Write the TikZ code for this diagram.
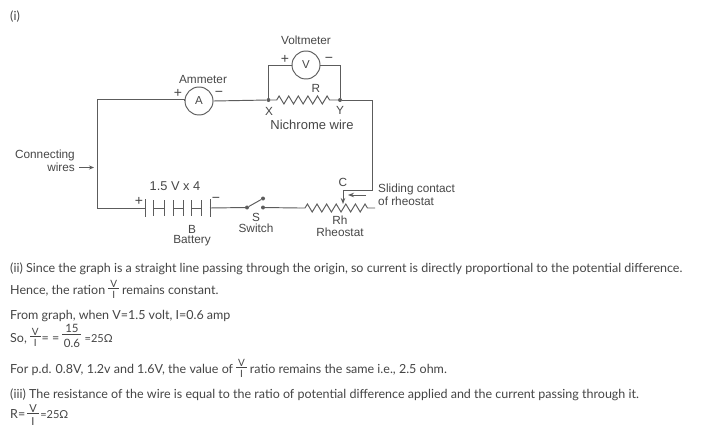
\documentclass[tikz,border=0pt]{standalone}
\usepackage{fontspec}
\setmainfont{Lato}
\newfontfamily\diag{Liberation Sans}
\usetikzlibrary{decorations.pathmorphing,arrows.meta}
\definecolor{wirec}{gray}{0.36}
\definecolor{labc}{gray}{0.28}
\definecolor{bodyc}{gray}{0.27}
% \stack{width}{font size}{top raise}{bar raise}{bottom raise}{top}{bottom}
\newcommand{\stack}[7]{{\fontsize{#2}{#2}\selectfont
  \makebox[0pt][l]{\raisebox{#3}{\makebox[#1]{#6}}}%
  \makebox[0pt][l]{\raisebox{#5}{\makebox[#1]{#7}}}%
  \rule[#4]{#1}{0.8pt}}}
\newcommand{\frc}[2]{\stack{10.5pt}{10}{7pt}{5pt}{-4.5pt}{#1}{#2}}
\newcommand{\frb}[2]{\stack{19pt}{11.5}{9.5pt}{7pt}{-5pt}{#1}{#2}}
\newcommand{\ohm}[1]{{\fontsize{11}{12}\selectfont #1}}
\tikzset{
  wire/.style={draw=wirec,line width=0.95pt},
  res/.style={wire,decorate,decoration={zigzag,amplitude=4pt,segment length=9.6pt,pre length=6pt,post length=6pt}},
  meter/.style={circle,draw=wirec,line width=0.95pt,minimum size=28pt,inner sep=0pt,font=\diag\fontsize{11.5}{12}\selectfont,text=labc},
  lab/.style={inner sep=0pt,font=\diag\fontsize{11.8}{12.5}\selectfont,text=labc,align=center},
  sign/.style={inner sep=0pt,font=\diag\fontsize{14}{14}\selectfont,text=labc},
  body/.style={inner sep=0pt,anchor=base west,font=\fontsize{12.5}{14}\selectfont,text=bodyc},
  junc/.style={circle,fill=wirec,inner sep=0pt,minimum size=4pt},
  plate/.style={draw=wirec,line width=0.95pt}
}
\begin{document}
\begin{tikzpicture}[x=1pt,y=-1pt]
\useasboundingbox (0,0) rectangle (712,433);
\fill[white] (0,0) rectangle (712,433);
% nodes
\node[meter] (A) at (199,101) {A};
\node[meter] (V) at (306,65) {V};
\node[junc] (X) at (268.5,100) {};
\node[junc] (Y) at (340,100) {};
\coordinate (tl) at (97,99.5);
\coordinate (bl) at (97,208);
\coordinate (tr) at (372,100);
\coordinate (mr) at (372,190);
\coordinate (vl) at (268.5,65);
\coordinate (vr) at (340,65);
\coordinate (ch) at (343,190);
\coordinate (ct) at (343,204);
\coordinate (bp) at (145,208);
\coordinate (bm) at (210,208);
\node[junc] (S1) at (247,207.5) {};
\node[junc] (S2) at (263,207.5) {};
\node[junc] (S3) at (263,198.5) {};
\coordinate (rhA) at (299,208);
\coordinate (rhB) at (375,208);
% wires
\draw[wire] (A.west) -- (A.west|-tl) -- (tl) -- (bl) -- (bp);
\draw[wire] (A.east) -- (X);
\draw[wire] (X) -- (vl) -- (V.west);
\draw[wire] (V.east) -- (vr) -- (Y);
\draw[res] (X) -- (Y);
\draw[wire] (Y) -- (tr) -- (mr) -- (ch);
\draw[wire,-{Stealth[length=6pt,width=4.5pt]}] (ch) -- (ct);
\draw[wire] (bm) -- (S1);
\draw[wire] (S1) -- (S3);
\draw[wire] (S2) -- (rhA);
\draw[res] (rhA) -- (rhB);
% battery plates
\draw[plate] (bp)+(0,-9) -- +(0,9);
\foreach \a/\b in {153/164,173/183,191/201}{
  \draw[plate] (\a,200) -- (\a,216);
  \draw[plate] (\b,200) -- (\b,216);
  \draw[plate] (\a,208) -- (\b,208);
}
\draw[plate] (bm)+(0,-9) -- +(0,9);
% pointers
\coordinate (sp) at (366,195);
\coordinate (st) at (348,195);
\draw[wire,-{Stealth[length=6pt,width=4.5pt]}] (sp) -- (st);
\coordinate (cwa) at (79,167.5);
\coordinate (cwb) at (94,167.5);
\draw[wire,-{Stealth[length=5pt,width=4pt]}] (cwa) -- (cwb);
% labels
\node[lab] (tAm) at (203,79) {Ammeter};
\node[lab] (tVm) at (306,40) {Voltmeter};
\node[sign] at (178,93) {+};
\node[sign] at (219,94) {\textminus};
\node[sign] at (285,59) {+};
\node[sign] at (329,60) {\textminus};
\node[lab] (tR) at (316,88) {R};
\node[lab] (tX) at (269,111) {X};
\node[lab] (tY) at (340,110) {Y};
\node[lab,font=\diag\fontsize{13}{13}\selectfont] (tN) at (312,125) {Nichrome wire};
\node[lab,align=right,anchor=east] (tC) at (75,161) {Connecting\\wires};
\node[lab,font=\diag\fontsize{12.8}{13}\selectfont] (t15) at (175,186) {1.5 V x 4};
\node[sign] at (139,201) {+};
\node[sign] at (216,200) {\textminus};
\node[lab] (tB) at (192,229) {B};
\node[lab] (tBt) at (192,241) {Battery};
\node[lab] (tS) at (256,217) {S};
\node[lab] (tSw) at (256,228) {Switch};
\node[lab] (tCc) at (343,182) {C};
\node[lab,align=left,anchor=west] (tSl) at (378,195) {Sliding contact\\of rheostat};
\node[lab] (tRh) at (340,220) {Rh};
\node[lab] (tRo) at (340,232) {Rheostat};
% text
\node[body] (l0) at (10,21) {(i)};
\node[body] (l1) at (10,272) {(ii) Since the graph is a straight line passing through the origin, so current is directly proportional to the potential difference.};
\node[body] (l2) at (10,294) {Hence, the ration \frc{V}{I} remains constant.};
\node[body] (l3) at (10,319) {From graph, when V=1.5 volt, I=0.6 amp};
\node[body] (l4) at (10,342) {So, \frc{V}{I}\kern1pt= = \frb{15}{0.6} \ohm{=25Ω}};
\node[body] (l5) at (10,373) {For p.d. 0.8V, 1.2v and 1.6V, the value of \frc{V}{I} ratio remains the same i.e., 2.5 ohm.};
\node[body] (l6) at (10,398) {(iii) The resistance of the wire is equal to the ratio of potential difference applied and the current passing through it.};
\node[body] (l7) at (10,418) {R=\kern2pt\stack{11.5pt}{11}{6pt}{4pt}{-7.5pt}{V}{I}\kern1.5pt\ohm{=25Ω}};
\end{tikzpicture}
\end{document}
